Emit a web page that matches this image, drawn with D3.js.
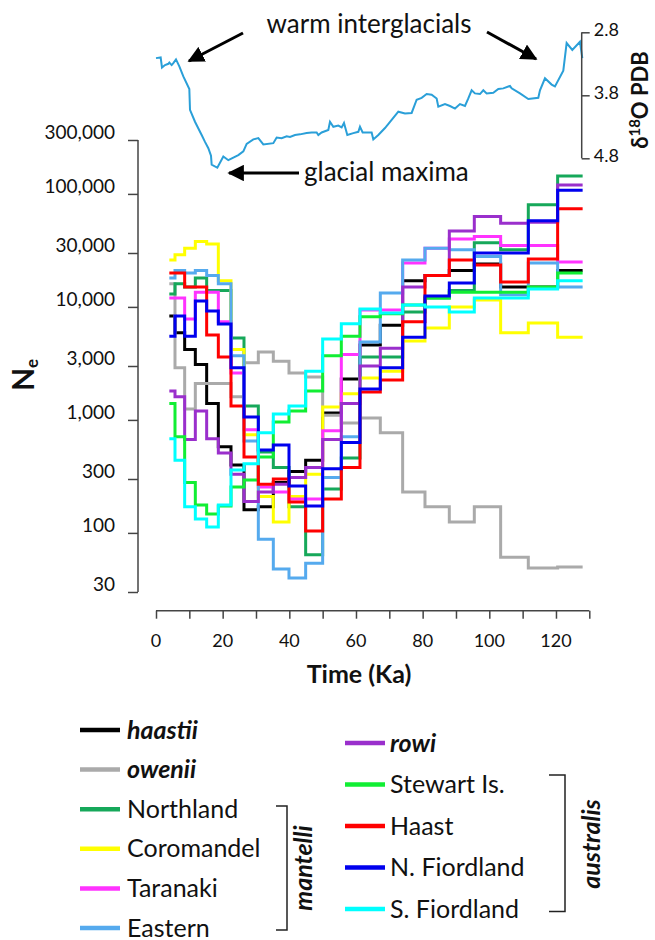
<!DOCTYPE html>
<html><head><meta charset="utf-8">
<script src="https://cdn.jsdelivr.net/npm/d3@7"></script>
<style>
body{margin:0;background:#fff}
svg{display:block}
text{font-family:Lato,"Open Sans",sans-serif;fill:#111}
</style>
</head><body>
<svg id="c" width="655" height="940"></svg>
<script>
// ---------- DATA ----------
// bin edges (Ka) shared by the step series
const edges = [4.0, 5.7, 8.6, 11.8, 15.2, 18.7, 22.5, 26.4, 30.7, 35.2, 39.9, 44.9, 50.0, 55.6, 61.2, 67.3, 74.0, 80.7, 88.0, 95.5, 103.4, 111.7, 120.5, 128.0];

// Ne per bin
const haastii    = [8300, 5900, 4200, 3100, 1400, 580, 400, 160, 170, 280, 350, 440, 1150, 2300, 4600, 6900, 17000, 19000, 21000, 24000, 15000, 15000, 21000];
const owenii     = [16000, 2900, 1250, 2100, 2100, 2100, 1600, 3200, 4000, 3300, 2600, 2400, 1100, 940, 1040, 770, 230, 170, 125, 170, 61, 49, 50];
const northland  = [13000, 16000, 15000, 18000, 14000, 14000, 5300, 1330, 520, 380, 170, 64, 245, 460, 3600, 3600, 9000, 12000, 14000, 37000, 32000, 80000, 144000];
const coromandel = [26000, 29000, 33000, 38000, 36000, 17000, 4200, 740, 210, 125, 210, 330, 1300, 1700, 2350, 2700, 5000, 6500, 10000, 11500, 5900, 7200, 5400];
const taranaki   = [12000, 12000, 7800, 13500, 13500, 7400, 2600, 820, 255, 230, 200, 200, 800, 3800, 9400, 9400, 24500, 33000, 40000, 42000, 35000, 35000, 25000];
const eastern    = [18000, 21000, 20000, 21000, 19000, 16000, 3700, 650, 88, 48, 40, 54, 310, 710, 4900, 13300, 26000, 33000, 32000, 28000, 12800, 24500, 15000];
const rowi       = [1800, 1600, 670, 1200, 680, 510, 330, 190, 230, 270, 310, 380, 670, 1400, 3000, 4300, 15000, 19000, 47000, 63000, 55000, 56000, 120000];
const stewartIs  = [1400, 710, 280, 177, 147, 173, 255, 294, 470, 960, 1200, 1800, 3700, 5500, 8200, 8700, 10400, 12000, 13500, 13500, 13500, 15000, 20000];
const haast      = [20000, 20000, 15000, 15000, 5650, 3600, 1330, 470, 270, 300, 188, 104, 200, 380, 1770, 2260, 7400, 19000, 26000, 23500, 16600, 26600, 74000];
const nFiordland = [5500, 8300, 5500, 11300, 9200, 7070, 2900, 1060, 543, 600, 260, 173, 370, 630, 1880, 2900, 5400, 12500, 16300, 30000, 30000, 58000, 108000];
const sFiordland = [680, 440, 170, 133, 113, 177, 360, 410, 770, 1130, 1330, 2700, 5200, 7100, 9600, 8850, 10400, 10000, 9000, 12000, 12000, 14400, 17000];

const seriesNames  = ["haastii", "owenii", "Northland", "Coromandel", "Taranaki", "Eastern", "rowi", "Stewart Is.", "Haast", "N. Fiordland", "S. Fiordland"];
const seriesValues = [haastii, owenii, northland, coromandel, taranaki, eastern, rowi, stewartIs, haast, nFiordland, sFiordland];
const seriesColors = ["#000000", "#aaaaaa", "#16a85a", "#ffff00", "#ff33ff", "#55aaee", "#9a2fcc", "#11ee33", "#ff0000", "#0000ee", "#00ffff"];

// delta 18O curve
const d18oTime  = [0, 1.4, 1.8, 2.7, 3.7, 4.0, 4.7, 5.2, 6.0, 7.0, 8.2, 10.0, 10.2, 11.7, 13.7, 14.7, 15.7, 16.5, 16.7, 18.4, 20.2, 21.7, 24.7, 26.2, 27.2, 29.2, 30.7, 32.2, 35.2, 36.2, 37.7, 39.2, 40.2, 41.7, 43.2, 45.2, 46.7, 48.2, 48.7, 49.7, 51.7, 52.2, 53.2, 54.7, 55.7, 56.4, 57.4, 59.2, 60.7, 61.2, 62.0, 64.7, 65.2, 66.7, 68.7, 70.7, 72.7, 74.7, 76.7, 78.2, 79.7, 81.2, 82.7, 84.2, 84.7, 86.7, 88.2, 89.7, 91.2, 92.7, 93.7, 94.7, 95.7, 97.2, 98.2, 99.2, 101.2, 102.7, 104.2, 106.2, 106.7, 109.2, 111.7, 114.7, 115.2, 116.7, 118.7, 119.7, 122.2, 123.2, 124.9, 127.2, 127.9];
const d18oValue = [3.21, 3.20, 3.36, 3.32, 3.30, 3.28, 3.32, 3.29, 3.23, 3.34, 3.50, 3.70, 4.03, 4.22, 4.43, 4.54, 4.64, 4.76, 4.90, 4.95, 4.77, 4.83, 4.75, 4.69, 4.57, 4.50, 4.48, 4.58, 4.56, 4.47, 4.48, 4.45, 4.46, 4.43, 4.42, 4.40, 4.39, 4.39, 4.43, 4.39, 4.35, 4.22, 4.30, 4.28, 4.31, 4.24, 4.43, 4.40, 4.38, 4.30, 4.39, 4.39, 4.50, 4.43, 4.32, 4.19, 4.06, 4.09, 4.08, 3.87, 3.84, 3.78, 3.79, 3.85, 3.98, 3.94, 3.97, 4.01, 3.94, 3.97, 3.85, 3.72, 3.77, 3.78, 3.72, 3.77, 3.76, 3.70, 3.69, 3.65, 3.69, 3.77, 3.86, 3.84, 3.72, 3.53, 3.63, 3.66, 3.41, 2.97, 3.08, 2.95, 3.21];

const yTickValues = [300000, 100000, 30000, 10000, 3000, 1000, 300, 100, 30];
const xTickValues = [0, 10, 20, 30, 40, 50, 60, 70, 80, 90, 100, 110, 120, 130];
const xLabelValues = [0, 20, 40, 60, 80, 100, 120];
const d18oTickValues = [2.8, 3.8, 4.8];

// legend layout groups
const legendLeft  = ["haastii", "owenii", "Northland", "Coromandel", "Taranaki", "Eastern"];
const legendRight = ["rowi", "Stewart Is.", "Haast", "N. Fiordland", "S. Fiordland"];
const italicNames = ["haastii", "owenii", "rowi"];

// ---------- DRAW ----------
const svg = d3.select("#c");
const x = d3.scaleLinear().domain([0, 130]).range([156, 589.3]);
const y = d3.scaleLog().domain([30, 300000]).range([592, 140]);
const yD = d3.scaleLinear().domain([2.8, 4.8]).range([32.3, 158.3]);
const axisColor = "#444";

// Y axis (log)
const yAx = svg.append("g").attr("transform", "translate(138,0)")
  .call(d3.axisLeft(y).tickValues(yTickValues).tickSize(10).tickFormat(d3.format(",")));
yAx.select(".domain").attr("stroke", axisColor).attr("stroke-width", 1.5).attr("d", `M0,${y(300000)}V${y(30)}`);
yAx.selectAll(".tick line").attr("stroke", axisColor).attr("stroke-width", 1.5);
yAx.selectAll(".tick text").attr("x", -23).attr("dy", "-0.08em")
  .style("font-size", "19px").style("font-family", "Lato").attr("fill", "#111");

// X axis
const xAx = svg.append("g").attr("transform", "translate(0,610.7)")
  .call(d3.axisBottom(x).tickValues(xTickValues).tickSize(8).tickFormat(""));
xAx.select(".domain").attr("stroke", axisColor).attr("stroke-width", 1.5).attr("d", `M${x(0)},0H${x(130)}`);
xAx.selectAll(".tick line").attr("stroke", axisColor).attr("stroke-width", 1.5);
svg.append("g").selectAll("text").data(xLabelValues).join("text")
  .attr("x", d => x(d)).attr("y", 647).attr("text-anchor", "middle")
  .style("font-size", "18px").text(d => d);

svg.append("text").attr("x", 359).attr("y", 683).attr("text-anchor", "middle")
  .style("font-size", "25px").style("font-weight", "bold").text("Time (Ka)");

// N_e label
const ne = svg.append("text").attr("transform", "translate(33.5,391) rotate(-90)")
  .attr("text-anchor", "start").style("font-weight", "bold").style("font-size", "30px");
ne.append("tspan").text("N");
ne.append("tspan").attr("dy", 4).style("font-size", "17px").text("e");

// step series
const line = d3.line().x(d => x(d[0])).y(d => y(d[1])).curve(d3.curveStepAfter);
seriesValues.forEach((vals, i) => {
  const pts = edges.map((t, k) => [t, vals[Math.min(k, vals.length - 1)]]);
  svg.append("path").datum(pts).attr("d", line)
    .attr("fill", "none").attr("stroke", seriesColors[i]).attr("stroke-width", 3)
    .attr("stroke-linejoin", "miter");
});

// delta 18O panel
const dLine = d3.line().x(d => x(d[0])).y(d => yD(d[1]));
svg.append("path").datum(d18oTime.map((t, i) => [t, d18oValue[i]])).attr("d", dLine)
  .attr("fill", "none").attr("stroke", "#2a9fd8").attr("stroke-width", 2);
const dAx = svg.append("g").attr("transform", "translate(581.7,0)")
  .call(d3.axisRight(yD).tickValues(d18oTickValues).tickSize(8).tickFormat(d3.format(".1f")));
dAx.select(".domain").attr("stroke", axisColor).attr("stroke-width", 1.5).attr("d", `M0,${yD(2.8)}V${yD(4.8)}`);
dAx.selectAll(".tick text").attr("x", 12).attr("dy", "0.17em").style("font-size", "18px").style("font-family", "Lato").attr("fill", "#111");
dAx.selectAll(".tick line").attr("stroke", axisColor).attr("stroke-width", 1.5);

const dl = svg.append("text").attr("transform", "translate(648,100) rotate(-90)")
  .attr("text-anchor", "middle").style("font-weight", "bold").style("font-size", "22px");
dl.append("tspan").text("δ");
dl.append("tspan").attr("dy", -8).style("font-size", "15px").text("18");
dl.append("tspan").attr("dy", 8).text("O PDB");

// annotations
const defs = svg.append("defs");
defs.append("marker").attr("id", "ah").attr("viewBox", "0 0 10 10").attr("refX", 9).attr("refY", 5)
  .attr("markerWidth", 5.5).attr("markerHeight", 5.5).attr("orient", "auto")
  .append("path").attr("d", "M0,0L10,5L0,10Z").attr("fill", "#000");
const arrows = [[243, 33, 189, 61], [487, 32, 536, 59], [299, 173, 229, 173]];
svg.append("g").selectAll("line").data(arrows).join("line")
  .attr("x1", d => d[0]).attr("y1", d => d[1]).attr("x2", d => d[2]).attr("y2", d => d[3])
  .attr("stroke", "#000").attr("stroke-width", 3).attr("marker-end", "url(#ah)");
svg.append("text").attr("x", 369).attr("y", 33).attr("text-anchor", "middle")
  .style("font-size", "26px").text("warm interglacials");
svg.append("text").attr("x", 304).attr("y", 181)
  .style("font-size", "26px").text("glacial maxima");

// legend
const legendFont = "25px";
function legendItem(g, name, lx, ly, tx) {
  const i = seriesNames.indexOf(name);
  g.append("line").attr("x1", lx).attr("x2", lx + 40).attr("y1", ly).attr("y2", ly)
    .attr("stroke", seriesColors[i]).attr("stroke-width", 4.5);
  const t = g.append("text").attr("x", tx).attr("y", ly + 8.5).style("font-size", legendFont).text(name);
  if (italicNames.includes(name)) t.style("font-style", "italic").style("font-weight", "bold");
}
const lg = svg.append("g");
legendLeft.forEach((n, k) => legendItem(lg, n, 80, 730 + k * 39.6, 127));
legendRight.forEach((n, k) => legendItem(lg, n, 345, 743 + k * 41.5, 390));

// brackets
svg.append("path").attr("d", "M276,806H287V930H276").attr("fill", "none").attr("stroke", "#222").attr("stroke-width", 1.5);
svg.append("text").attr("transform", "translate(312,868) rotate(-90)").attr("text-anchor", "middle")
  .style("font-size", legendFont).style("font-weight", "bold").style("font-style", "italic").text("mantelli");
svg.append("path").attr("d", "M549,775H565V911.5H549").attr("fill", "none").attr("stroke", "#222").attr("stroke-width", 1.5);
svg.append("text").attr("transform", "translate(600,844) rotate(-90)").attr("text-anchor", "middle")
  .style("font-size", legendFont).style("font-weight", "bold").style("font-style", "italic").text("australis");
</script>
</body></html>
